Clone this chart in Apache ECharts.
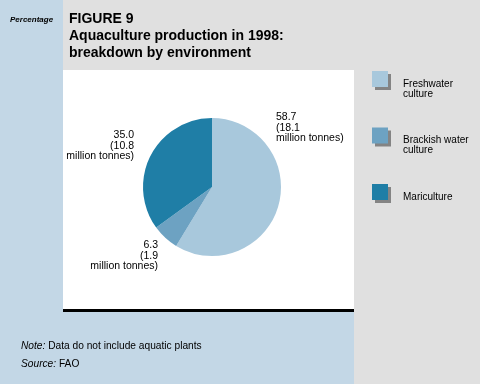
<!DOCTYPE html>
<html><head><meta charset="utf-8">
<script src="https://cdn.jsdelivr.net/npm/echarts@6/dist/echarts.min.js"></script>
<style>html,body{margin:0;padding:0;background:#e0e0e0}#c{width:480px;height:384px}</style>
</head><body><div id="c"></div>
<script>
const categories = ['Freshwater\nculture', 'Brackish water\nculture', 'Mariculture'];
const percentages = [58.7, 6.3, 35.0];
const tonnes = ['18.1', '1.9', '10.8'];
const colors = ['#a8c8dc', '#6da2c2', '#1f7ea6'];

const FONT = '"Liberation Sans", Arial, sans-serif';
const chart = echarts.init(document.getElementById('c'));
const labelPos = [
  {x: 276, y: 112, align: 'left'},
  {x: 158, y: 240, align: 'right'},
  {x: 134, y: 130, align: 'right'}
];
chart.setOption({
  animation: false,
  backgroundColor: '#e0e0e0',
  graphic: [
    {type: 'rect', shape: {x: 0, y: 0, width: 63, height: 384}, style: {fill: '#c3d7e6'}, z: -10},
    {type: 'rect', shape: {x: 0, y: 312, width: 354, height: 72}, style: {fill: '#c3d7e6'}, z: -10},
    {type: 'rect', shape: {x: 63, y: 70, width: 291, height: 240}, style: {fill: '#ffffff'}, z: -10},
    {type: 'rect', shape: {x: 63, y: 309, width: 291, height: 3}, style: {fill: '#000000'}, z: -9},
    {type: 'text', left: 10, top: 16, style: {text: 'Percentage', font: 'italic bold 8px ' + FONT, fill: '#000'}},
    {type: 'text', left: 69, top: 11, style: {text: 'FIGURE 9\nAquaculture production in 1998:\nbreakdown by environment', font: 'bold 14px ' + FONT, lineHeight: 17, fill: '#000'}},
    {type: 'text', left: 21, top: 337, style: {rich: {i: {fontStyle: 'italic', fontSize: 10.2, fontFamily: FONT}, n: {fontSize: 10.2, fontFamily: FONT}}, text: '{i|Note:}{n| Data do not include aquatic plants}\n{i|Source:}{n| FAO}', lineHeight: 18, fill: '#000'}}
  ],
  legend: {
    orient: 'vertical',
    left: 372, top: 59,
    padding: 0,
    itemWidth: 16, itemHeight: 16,
    itemGap: 16.5,
    icon: 'rect',
    itemStyle: {shadowColor: '#848484', shadowOffsetX: 3, shadowOffsetY: 3, shadowBlur: 0},
    textStyle: {fontFamily: FONT, fontSize: 10, lineHeight: 10, color: '#000', padding: [0, 0, 0, 10]},
    formatter: name => name.indexOf('\n') >= 0 ? '\n\n' + name : '\n\n' + name + '\n ',
    data: categories
  },
  series: [{
    type: 'pie',
    center: [212, 187],
    radius: 69,
    startAngle: 90,
    clockwise: true,
    color: colors,
    label: {
      show: true, position: 'outside',
      fontFamily: FONT, fontSize: 10.5, lineHeight: 10.5, color: '#000',
      formatter: p => p.value.toFixed(1) + '\n(' + tonnes[p.dataIndex] + '\nmillion tonnes)'
    },
    labelLine: {show: false},
    labelLayout: p => ({x: labelPos[p.dataIndex].x, y: labelPos[p.dataIndex].y, align: labelPos[p.dataIndex].align, verticalAlign: 'top'}),
    emphasis: {disabled: true},
    data: categories.map((c, i) => ({name: c, value: percentages[i]}))
  }]
});
</script></body></html>
